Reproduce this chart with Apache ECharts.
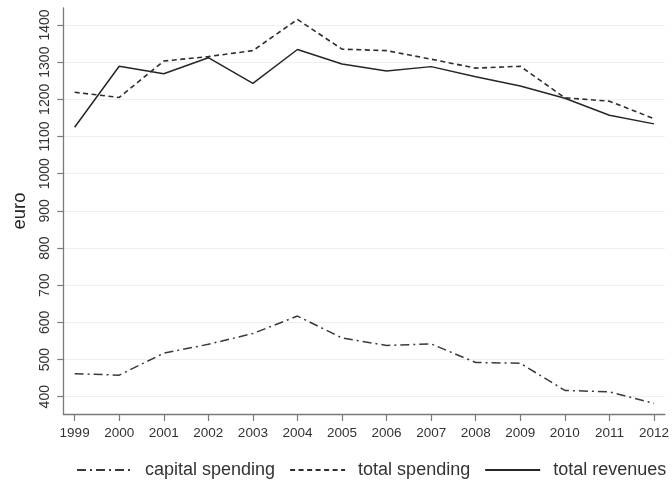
<!DOCTYPE html>
<html>
<head>
<meta charset="utf-8">
<script src="https://cdn.jsdelivr.net/npm/echarts@6/dist/echarts.min.js"></script>
<style>
  html, body { margin: 0; padding: 0; background: #fff; }
  #chart { width: 672px; height: 483px; }
</style>
</head>
<body>
<div id="chart"></div>
<script>
// Municipal finances per inhabitant, 1999-2012
const years = [1999, 2000, 2001, 2002, 2003, 2004, 2005, 2006, 2007, 2008, 2009, 2010, 2011, 2012];
const capitalSpending = [462, 458, 517, 541, 570, 617, 558, 538, 542, 492, 490, 417, 413, 382];
const totalSpending = [1219, 1205, 1303, 1315, 1331, 1415, 1335, 1331, 1308, 1284, 1289, 1204, 1195, 1148];
const totalRevenues = [1125, 1289, 1269, 1312, 1243, 1334, 1295, 1276, 1288, 1261, 1236, 1203, 1157, 1134];
const yTicks = [400, 500, 600, 700, 800, 900, 1000, 1100, 1200, 1300, 1400];

const pairs = vals => years.map((y, i) => [y, vals[i]]);
const font = 'Liberation Sans, Arial, Helvetica, sans-serif';

const chart = echarts.init(document.getElementById('chart'), null, { renderer: 'canvas' });

chart.setOption({
  animation: false,
  backgroundColor: '#ffffff',
  grid: { left: 63.3, right: 3, top: 8, bottom: 69, containLabel: false },
  xAxis: {
    type: 'value',
    min: 1998.746,
    max: 2012.245,
    axisLine: { show: true, lineStyle: { color: '#7a7a7a', width: 1.3 } },
    axisTick: { show: true, length: 7, customValues: years, lineStyle: { color: '#7a7a7a', width: 1.2 } },
    axisLabel: {
      customValues: years, margin: 12, color: '#333', fontSize: 13.5, fontFamily: font,
      formatter: v => String(v)
    },
    splitLine: { show: false }
  },
  yAxis: {
    type: 'value',
    min: 353.5,
    max: 1445.7,
    name: 'euro',
    nameLocation: 'middle',
    nameRotate: 90,
    nameGap: 34,
    nameTextStyle: { color: '#222', fontSize: 18.5, fontFamily: font },
    axisLine: { show: true, lineStyle: { color: '#7a7a7a', width: 1.3 } },
    axisTick: { show: true, length: 6, customValues: yTicks, lineStyle: { color: '#7a7a7a', width: 1.2 } },
    axisLabel: {
      customValues: yTicks, rotate: 90, margin: 11, color: '#333', fontSize: 14, fontFamily: font,
      formatter: v => String(v)
    },
    splitLine: { show: true, customValues: yTicks, lineStyle: { color: '#efefef', width: 1.2 } }
  },
  legend: {
    show: true,
    left: 76,
    top: 461,
    width: 596,
    padding: 0,
    itemWidth: 55,
    itemHeight: 10,
    itemGap: 14,
    itemStyle: { color: 'transparent', borderWidth: 0, opacity: 0 },
    textStyle: { color: '#333', fontSize: 18, fontFamily: font, padding: [0, 0, 0, 8] },
    data: ['capital spending', 'total spending', 'total revenues']
  },
  series: [
    {
      name: 'capital spending', type: 'line', data: pairs(capitalSpending),
      symbol: 'none', clip: false,
      lineStyle: { color: '#3a3a3a', width: 1.5, type: [9, 4, 2, 4] },
      itemStyle: { color: '#3a3a3a' }
    },
    {
      name: 'total spending', type: 'line', data: pairs(totalSpending),
      symbol: 'none', clip: false,
      lineStyle: { color: '#2e2e2e', width: 1.6, type: [5, 3.5] },
      itemStyle: { color: '#2e2e2e' }
    },
    {
      name: 'total revenues', type: 'line', data: pairs(totalRevenues),
      symbol: 'none', clip: false,
      lineStyle: { color: '#262626', width: 1.5, type: 'solid' },
      itemStyle: { color: '#262626' }
    }
  ]
});
</script>
</body>
</html>
